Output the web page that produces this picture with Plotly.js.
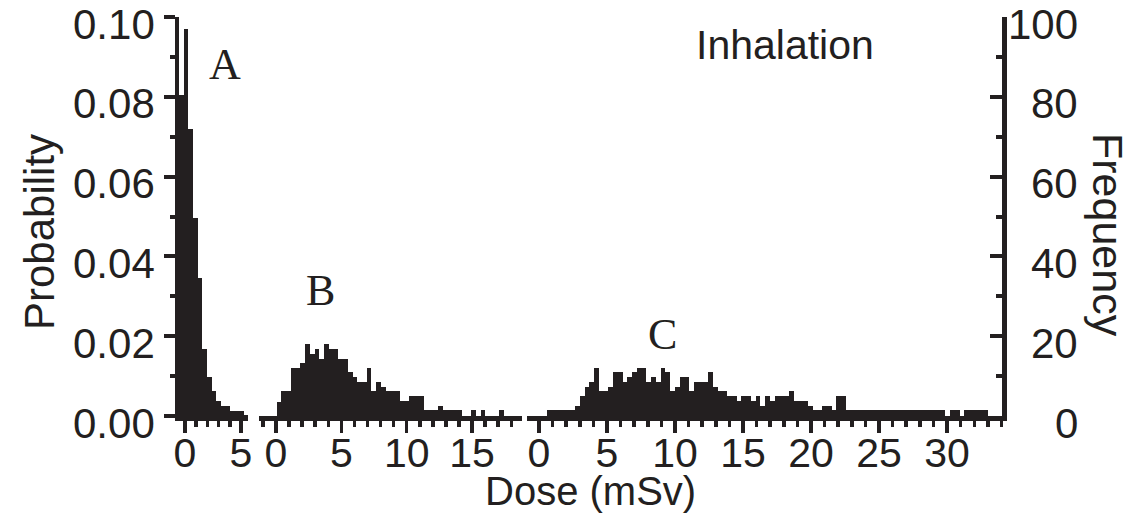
<!DOCTYPE html>
<html>
<head>
<meta charset="utf-8">
<script src="https://cdn.plot.ly/plotly-3.0.1.min.js"></script>
<style>
html,body{margin:0;padding:0;background:#fff;}
#chart{width:1132px;height:516px;}
</style>
</head>
<body>
<div id="chart"></div>
<script>
// ---- Data ----
// Panel A: probability per dose bin (mSv)
const aBinStart = -0.536;
const aBinWidth = 0.417;
const aProb = [0.0805, 0.097, 0.072, 0.0497, 0.0345, 0.0167, 0.0097, 0.0062, 0.0037, 0.0025, 0.0025, 0.0013, 0.0013, 0.0013, 0.0003];

// Panel B
const bBinStart = 0.05;
const bBinWidth = 0.3627;
const bProb = [0.0036, 0.0063, 0.0063, 0.012, 0.012, 0.0132, 0.018, 0.0155, 0.0167, 0.0144,
               0.018, 0.0167, 0.0167, 0.0144, 0.0144, 0.011, 0.0098, 0.0086, 0.0086, 0.012,
               0.0063, 0.0086, 0.0073, 0.0063, 0.0063, 0.0063, 0.0038, 0.0038, 0.0051, 0.0051,
               0.0051, 0.0015, 0.0015, 0.0015, 0.0026, 0.0015, 0.0015, 0.0015, 0.0015, 0,
               0, 0.0015, 0, 0.0015, 0, 0, 0, 0.0015];

// Panel C
const cBinStart = 0.566;
const cBinWidth = 0.349;
const cProb = [0.0015, 0.0015, 0.0015, 0.0015, 0.0015, 0.0015, 0.0026, 0.0051, 0.0073, 0.0086,
               0.012, 0.0063, 0.0063, 0.0073, 0.011, 0.011, 0.0086, 0.0097, 0.011, 0.012,
               0.012, 0.0086, 0.0097, 0.0086, 0.012, 0.011, 0.0063, 0.0073, 0.0097, 0.0097,
               0.0063, 0.0086, 0.0086, 0.0086, 0.011, 0.0073, 0.0063, 0.0063, 0.0051, 0.0051,
               0.0038, 0.0051, 0.0051, 0.0038, 0.0051, 0.0026, 0.0051, 0.0038, 0.0051, 0.0051,
               0.0051, 0.0063, 0.0038, 0.0038, 0.0038, 0.0026, 0.0015, 0.0015, 0.0026, 0.0026,
               0.0015, 0.0051, 0.0051, 0.0015, 0.0015, 0.0015, 0.0015, 0.0015, 0.0015, 0.0015,
               0.0015, 0.0015, 0.0015, 0.0015, 0.0015, 0.0015, 0.0015, 0.0015, 0.0015, 0.0015,
               0.0015, 0.0015, 0.0015, 0.0015, 0, 0.0015, 0.0015, 0, 0.0015, 0.0015,
               0.0015, 0.0015, 0.0015];

const probTicks = [0, 0.02, 0.04, 0.06, 0.08, 0.10];
const freqTicks = [0, 20, 40, 60, 80, 100];
const doseTicks = [0, 5, 10, 15, 20, 25, 30];
const panelLabels = ['A', 'B', 'C'];

// ---- helpers ----
function centers(start, width, n) {
  const out = [];
  for (let i = 0; i < n; i++) out.push(start + (i + 0.5) * width);
  return out;
}

const INK = '#231f20';
const SANS = 'Liberation Sans, Arial, Helvetica, sans-serif';
const SERIF = 'Liberation Serif, Times New Roman, serif';

function barTrace(probs, start, width, xa) {
  return {
    type: 'bar',
    x: centers(start, width, probs.length),
    y: probs,
    width: width,
    xaxis: xa,
    yaxis: 'y',
    marker: {color: INK, line: {width: 0}},
    hoverinfo: 'skip',
    showlegend: false
  };
}

const traces = [
  barTrace(aProb, aBinStart, aBinWidth, 'x'),
  barTrace(bProb, bBinStart, bBinWidth, 'x2'),
  barTrace(cProb, cBinStart, cBinWidth, 'x3')
];

// plot area in px: left 179, right 1002, top 17, bottom 416
const L = 179, R = 1002, T = 17, B = 416;
const W = R - L, H = B - T;
const px = v => (v - L) / W;
const py = v => (B - v) / H;

function xAxis(dom, range) {
  return {
    domain: dom,
    range: range,
    anchor: 'y',
    showline: true, linewidth: 4.5, linecolor: INK,
    ticks: 'outside', ticklen: 12, tickwidth: 3.5, tickcolor: INK,
    tickmode: 'array', tickvals: doseTicks, ticktext: doseTicks.map(String),
    minor: {ticks: 'outside', dtick: 1, tick0: 0, ticklen: 6, tickwidth: 3.5, tickcolor: INK, showgrid: false},
    showgrid: false, zeroline: false,
    tickfont: {family: SANS, size: 41, color: INK},
    ticklabelstandoff: -15,
    ticklabeloverflow: 'allow'
  };
}

function note(text, x, y, font, extra) {
  return Object.assign({text: text, xref: 'paper', yref: 'paper', x: px(x), y: py(y),
    xanchor: 'center', yanchor: 'middle', showarrow: false, font: font}, extra || {});
}

const annotations = [
  note('Inhalation', 785, 45, {family: SANS, size: 41, color: INK}),
  note(panelLabels[0], 225, 64, {family: SERIF, size: 44, color: INK}),
  note(panelLabels[1], 320, 290, {family: SERIF, size: 44, color: INK}),
  note(panelLabels[2], 662, 334, {family: SERIF, size: 44, color: INK}),
  note('Probability', 39, 232, {family: SANS, size: 42, color: INK}, {textangle: -90}),
  note('Frequency', 1108, 235, {family: SANS, size: 43, color: INK}, {textangle: 90}),
  note('Dose (mSv)', 590, 491, {family: SANS, size: 40, color: INK})
];
// left (probability) tick labels
probTicks.forEach(p => {
  annotations.push({text: p.toFixed(2), xref: 'paper', yref: 'y', x: px(157), y: p,
    xanchor: 'right', yanchor: 'middle', yshift: -7, showarrow: false,
    font: {family: SANS, size: 42, color: INK}});
});
// right (frequency) tick labels
freqTicks.forEach(f => {
  annotations.push({text: String(f), xref: 'paper', yref: 'y2', x: px(1080), y: f,
    xanchor: 'right', yanchor: 'middle', yshift: -7, showarrow: false,
    font: {family: SANS, size: 42, color: INK}});
});

const layout = {
  width: 1132, height: 516,
  margin: {l: L, r: 1132 - R, t: T, b: 516 - B, pad: 0},
  paper_bgcolor: '#ffffff', plot_bgcolor: '#ffffff',
  showlegend: false,
  bargap: 0,
  xaxis: xAxis([0, px(248)], [-0.536, 5.625]),
  xaxis2: xAxis([px(259), px(522)], [-1.30, 18.82]),
  xaxis3: xAxis([px(527), 1], [-0.882, 34.04]),
  yaxis: {
    domain: [0, 1], range: [0, 0.10002], anchor: 'x',
    showline: true, linewidth: 4.5, linecolor: INK,
    ticks: 'outside', ticklen: 11, tickwidth: 4, tickcolor: INK,
    tickmode: 'array', tickvals: probTicks,
    minor: {ticks: 'outside', dtick: 0.01, tick0: 0, ticklen: 5, tickwidth: 4, tickcolor: INK, showgrid: false},
    showticklabels: false, showgrid: false, zeroline: false
  },
  yaxis2: {
    domain: [0, 1], range: [0, 100], overlaying: 'y', anchor: 'x3', side: 'right',
    showline: true, linewidth: 4.5, linecolor: INK,
    ticks: 'inside', ticklen: 12, tickwidth: 4, tickcolor: INK,
    tickmode: 'array', tickvals: freqTicks,
    minor: {ticks: 'inside', dtick: 10, tick0: 0, ticklen: 6, tickwidth: 4, tickcolor: INK, showgrid: false},
    showticklabels: false, showgrid: false, zeroline: false
  },
  annotations: annotations
};

Plotly.newPlot('chart', traces, layout, {displayModeBar: false, staticPlot: true});
</script>
</body>
</html>
